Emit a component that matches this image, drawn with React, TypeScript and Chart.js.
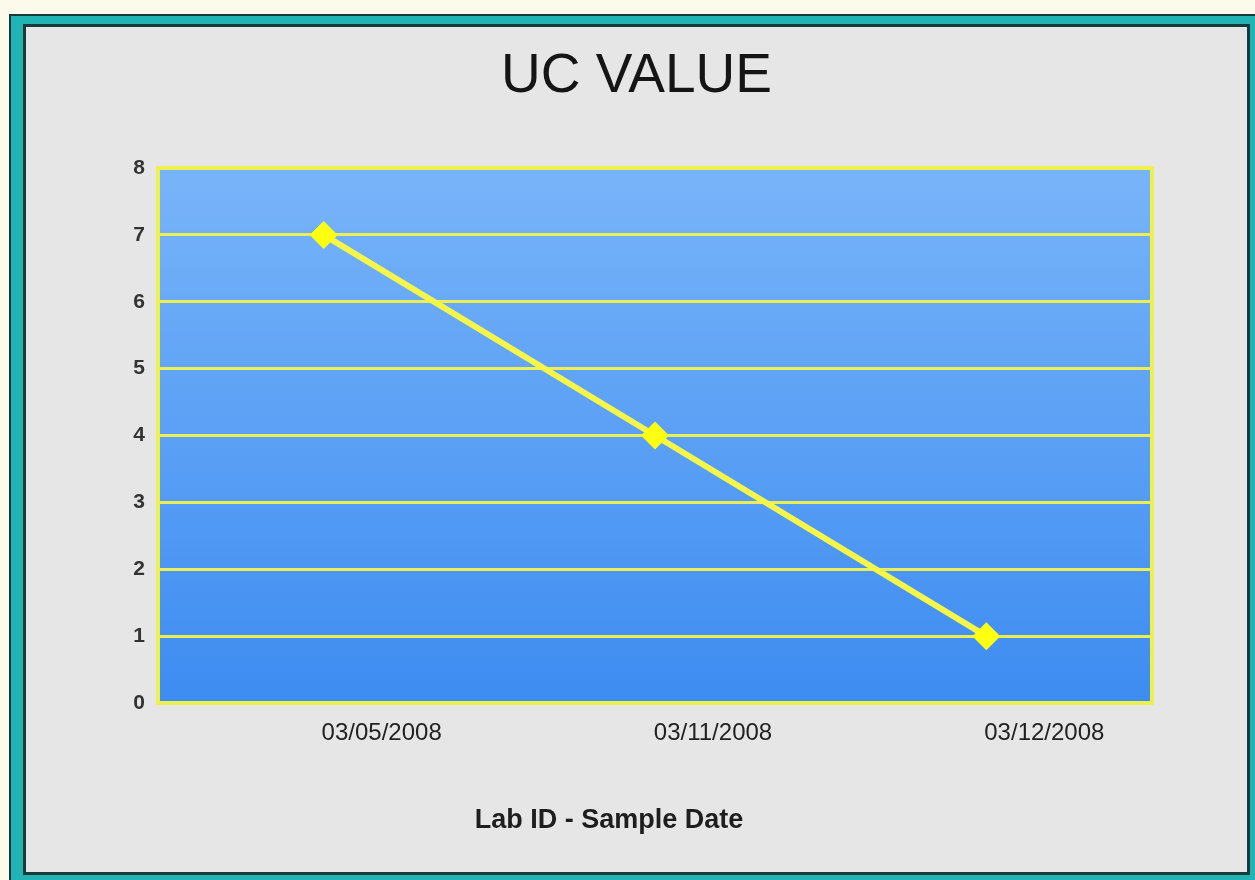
import React, { useEffect, useRef } from "react";
import { Chart, registerables } from "chart.js";

Chart.register(...registerables);

const chartTitle = "UC VALUE";
const xAxisTitle = "Lab ID - Sample Date";
const categories = ["03/05/2008", "03/11/2008", "03/12/2008"];
const ucValues = [7, 4, 1];
const yTicks = [0, 1, 2, 3, 4, 5, 6, 7, 8];

const FONT = "'Liberation Sans', Arial, sans-serif";

const plotBackground = {
  id: "plotBackground",
  beforeDraw(chart: any) {
    const { ctx, chartArea } = chart;
    if (!chartArea) return;
    const g = ctx.createLinearGradient(0, chartArea.top, 0, chartArea.bottom);
    g.addColorStop(0, "#78b4f9");
    g.addColorStop(1, "#3d8cf1");
    ctx.save();
    ctx.fillStyle = g;
    ctx.fillRect(chartArea.left, chartArea.top, chartArea.right - chartArea.left, chartArea.bottom - chartArea.top);
    ctx.restore();
  },
  beforeDatasetsDraw(chart: any) {
    const { ctx, chartArea } = chart;
    ctx.save();
    ctx.strokeStyle = "#eef04e";
    ctx.lineWidth = 4;
    ctx.strokeRect(chartArea.left, chartArea.top, chartArea.right - chartArea.left, chartArea.bottom - chartArea.top);
    ctx.restore();
  },
  afterDraw(chart: any) {
    const { ctx, chartArea } = chart;
    ctx.save();
    ctx.font = `bold 27px ${FONT}`;
    ctx.fillStyle = "#1e1e1e";
    ctx.textAlign = "center";
    ctx.textBaseline = "middle";
    const cx = (chartArea.left + chartArea.right) / 2 - 46;
    ctx.fillText(xAxisTitle, cx, chartArea.bottom + 118);
    ctx.restore();
  },
};

export default function App() {
  const ref = useRef<HTMLCanvasElement>(null);

  useEffect(() => {
    if (!ref.current) return;
    const chart = new Chart(ref.current, {
      type: "line",
      data: {
        labels: categories,
        datasets: [
          {
            label: chartTitle,
            data: ucValues,
            borderColor: "#f6f64a",
            borderWidth: 6,
            pointStyle: "rectRot",
            pointRadius: 14,
            pointBackgroundColor: "#ffff10",
            pointBorderColor: "#ffff10",
            pointBorderWidth: 0,
            tension: 0,
          },
        ],
      },
      plugins: [plotBackground],
      options: {
        animation: false,
        responsive: false,
        maintainAspectRatio: false,
        layout: { padding: 0 },
        plugins: {
          legend: { display: false },
          tooltip: { enabled: false },
          title: {
            display: true,
            text: chartTitle,
            color: "#151515",
            font: { family: FONT, size: 55, weight: "normal" },
            padding: { top: 17, bottom: 58 },
          },
        },
        scales: {
          x: {
            type: "category",
            offset: true,
            grid: { display: false, drawTicks: false },
            border: { display: false },
            ticks: {
              color: "#222222",
              font: { family: FONT, size: 24 },
              labelOffset: 58,
              padding: 16,
              maxRotation: 0,
              autoSkip: false,
            },
            afterFit(scale: any) {
              scale.height = 169;
            },
          },
          y: {
            min: 0,
            max: 8,
            afterBuildTicks(scale: any) {
              scale.ticks = yTicks.map((v) => ({ value: v }));
            },
            grid: { color: "#ecee55", lineWidth: 3, drawTicks: false },
            border: { display: false },
            ticks: {
              color: "#333333",
              font: { family: FONT, size: 21, weight: "bold" },
              padding: 13,
            },
            afterFit(scale: any) {
              scale.width = 132;
            },
          },
          yRightSpace: {
            type: "linear",
            position: "right",
            display: true,
            grid: { display: false, drawTicks: false },
            border: { display: false },
            ticks: { display: false },
            afterFit(scale: any) {
              scale.width = 95;
            },
          },
        },
      },
    } as any);
    return () => chart.destroy();
  }, []);

  return (
    <div style={{ position: "fixed", left: 0, top: 0, width: 1255, height: 880, overflow: "hidden", background: "#fcfaea" }}>
      <div style={{ position: "absolute", left: 9, top: 14, width: 1300, height: 900, background: "#173a3a" }} />
      <div style={{ position: "absolute", left: 11, top: 16, width: 1300, height: 900, background: "#22b4b4" }} />
      <div style={{ position: "absolute", left: 23, top: 24, width: 1227, height: 851, background: "#173a3a" }} />
      <div style={{ position: "absolute", left: 26, top: 27, width: 1221, height: 845, background: "#e7e6e6" }}>
        <canvas ref={ref} width={1221} height={845} style={{ display: "block", width: 1221, height: 845 }} />
      </div>
    </div>
  );
}
